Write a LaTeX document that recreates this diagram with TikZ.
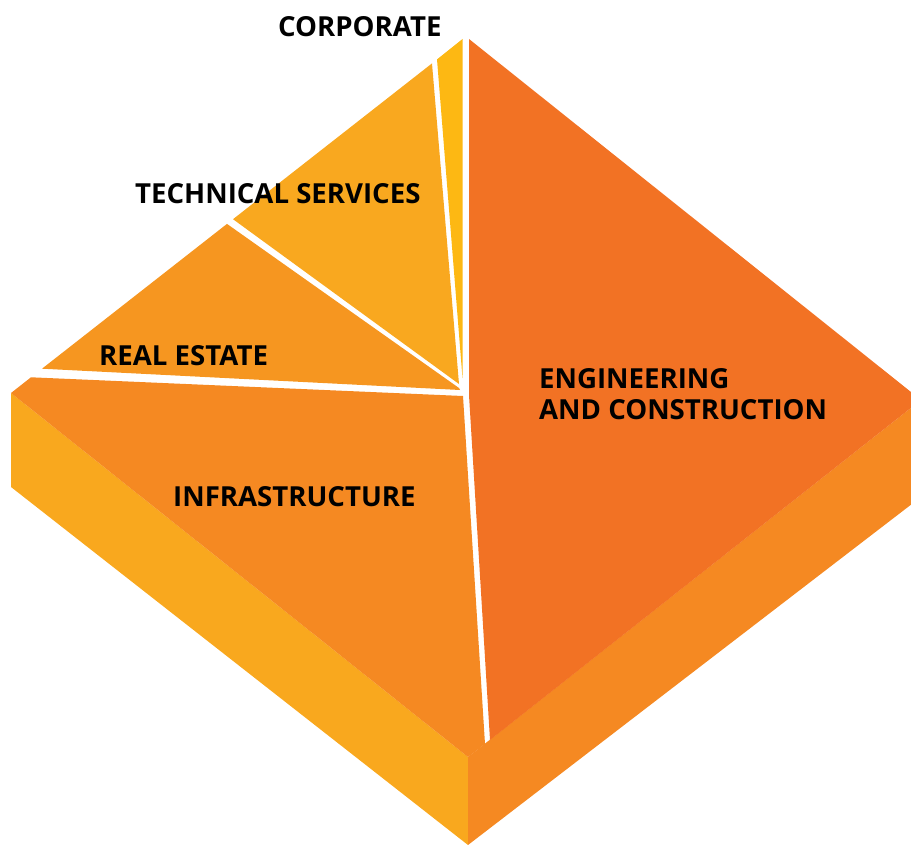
\documentclass[tikz,border=0pt]{standalone}
\usepackage{fontspec}
\setmainfont{Open Sans}
\begin{document}
\begin{tikzpicture}[x=1pt,y=-1pt,
  lbl/.style={anchor=base west,inner sep=0pt,font=\fontsize{27.6}{33}\selectfont\bfseries,text=black}]
\definecolor{engC}{RGB}{242,114,36}
\definecolor{infC}{RGB}{245,137,34}
\definecolor{reC}{RGB}{246,150,32}
\definecolor{tsC}{RGB}{249,168,31}
\definecolor{corC}{RGB}{253,184,19}
\definecolor{leftC}{RGB}{249,168,30}
\definecolor{rightC}{RGB}{245,137,34}
\useasboundingbox (0,0) rectangle (911,845);
\begin{scope}
\clip (0,0) rectangle (911,845);
% side faces of the slab
\fill[leftC]  (11,393) -- (468,757) -- (468,845) -- (11,487) -- cycle;
\fill[rightC] (468,757) -- (921,400) -- (921,497) -- (468,845) -- cycle;
% top face segments
\fill[engC] (469,39) -- (921,400) -- (490,740) -- (469,395) -- cycle;
\fill[infC] (11,393) -- (31,377.3) -- (463,396) -- (485,744) -- (468,757) -- cycle;
\fill[reC]  (42,368.7) -- (227,223.9) -- (459,388) -- (460,390) -- cycle;
\fill[tsC]  (233,219.2) -- (432,63.4) -- (459,384) -- cycle;
\fill[corC] (437,59.4) -- (462.5,39) -- (462.5,378) -- cycle;
\end{scope}
% labels
\node[lbl] (corp) at (278,37) {CORPORATE};
\node[lbl] (tech) at (135,204) {TECHNICAL SERVICES};
\node[lbl] (real) at (99,365) {REAL ESTATE};
\node[lbl] (eng1) at (539,388) {ENGINEERING};
\node[lbl] (eng2) at (539,419) {AND CONSTRUCTION};
\node[lbl] (infra) at (173,506) {INFRASTRUCTURE};
\end{tikzpicture}
\end{document}
